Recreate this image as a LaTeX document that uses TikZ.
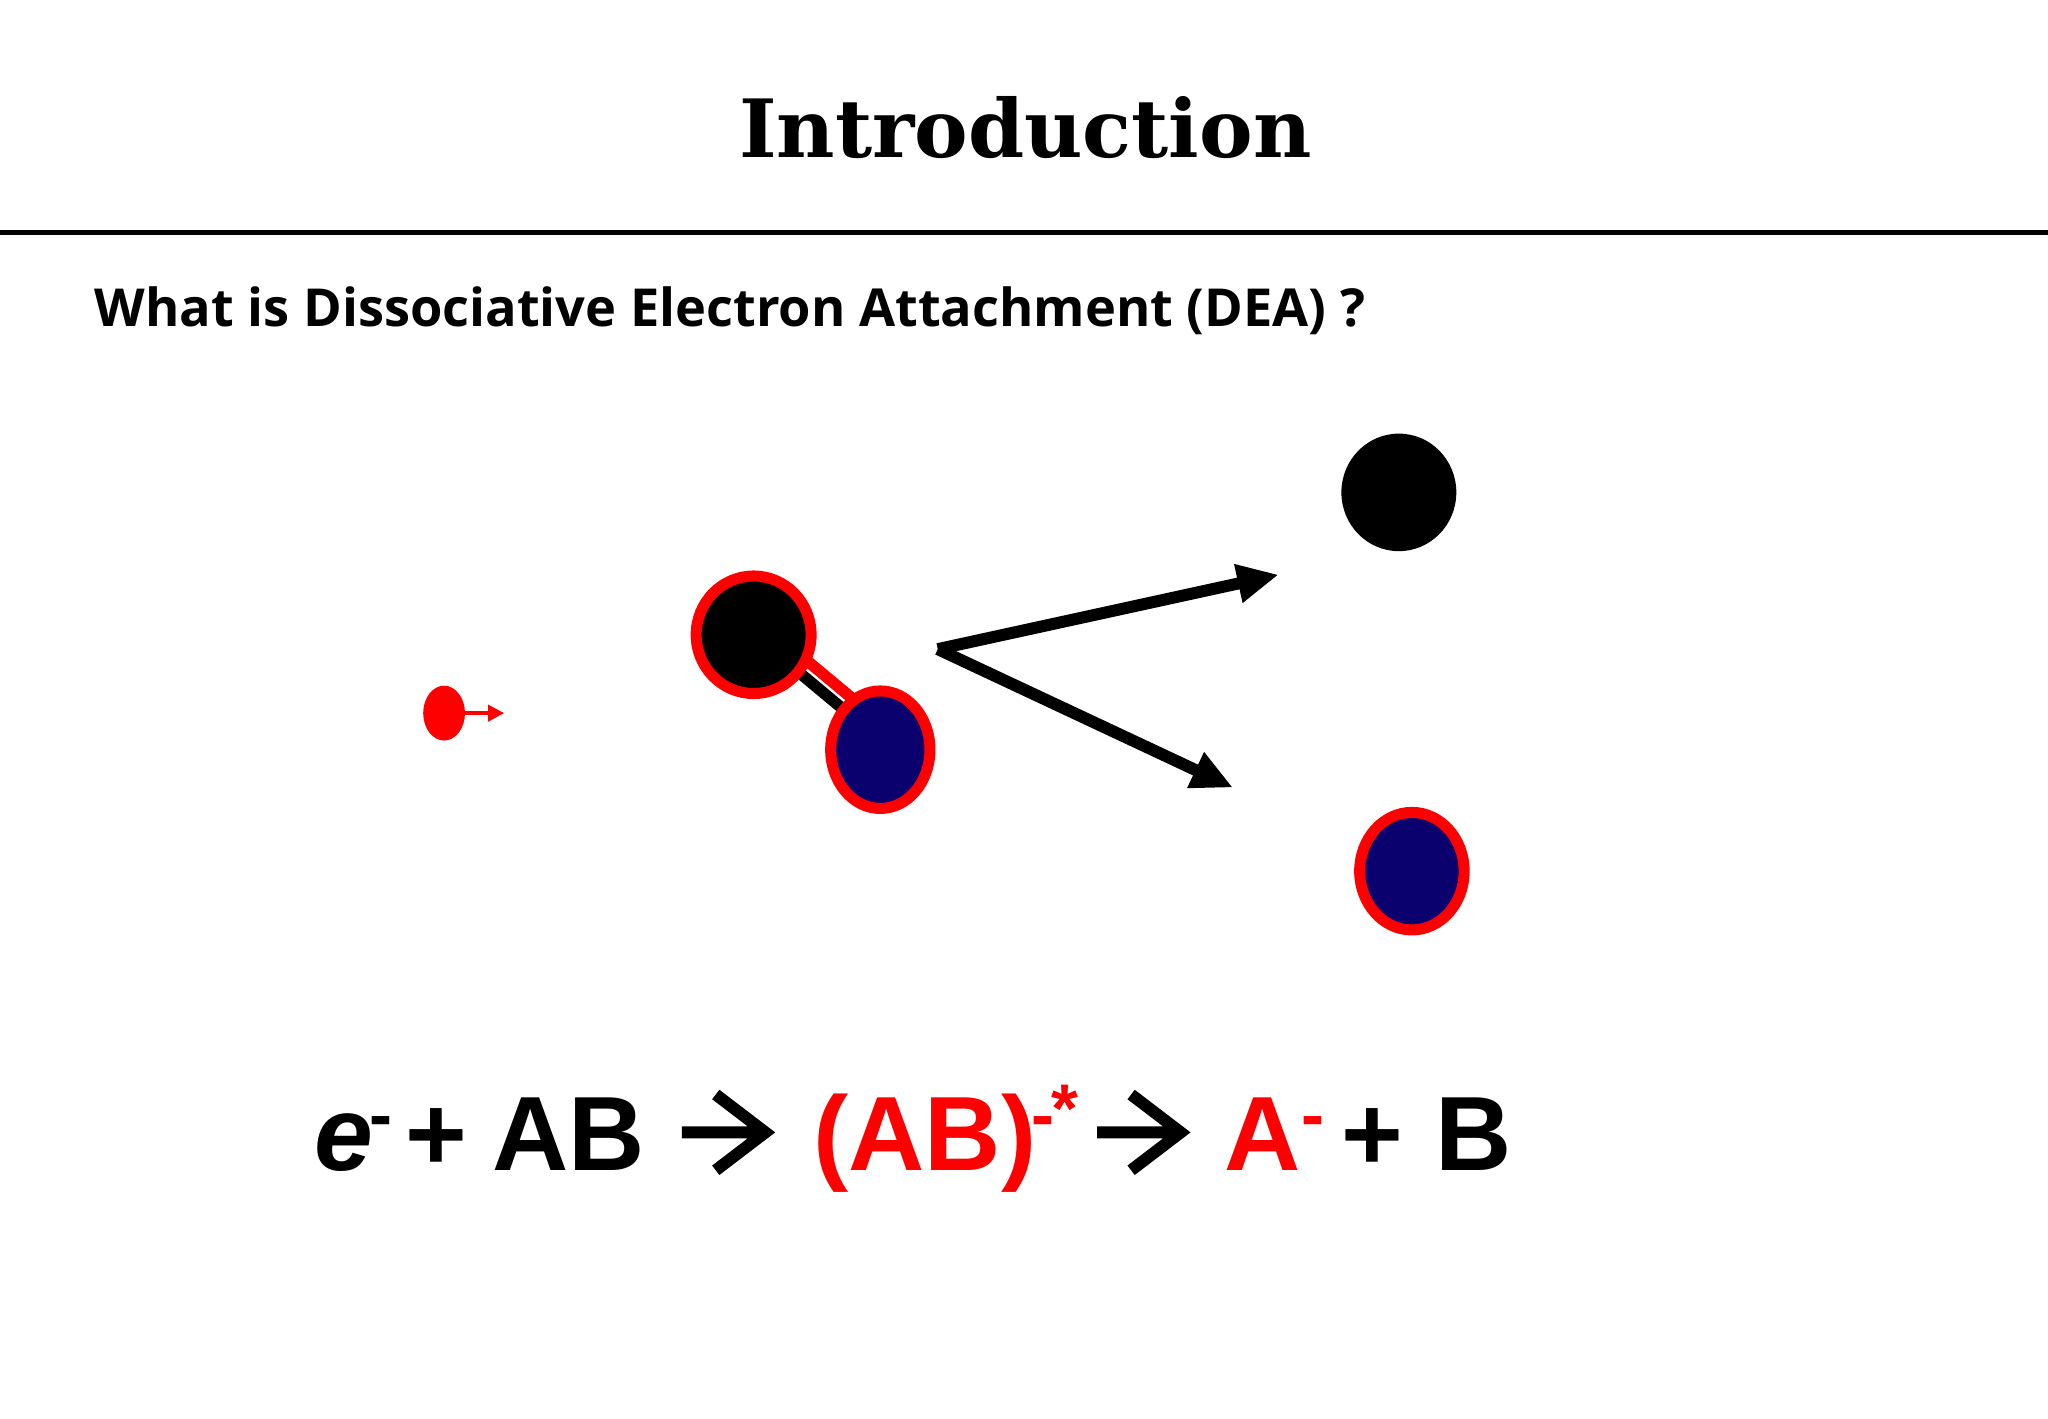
\documentclass[tikz,border=0pt]{standalone}
\usepackage{fontspec}
\setmainfont{DejaVu Serif}
\newfontfamily\osans{Open Sans}
\newfontfamily\arial{Liberation Sans}
\usetikzlibrary{arrows.meta}
\definecolor{navy}{RGB}{10,0,110}
\tikzset{
 atomr/.style={draw=red, line width=2.4pt},
 big/.style={-{Triangle[length=9pt,width=8pt]}, line width=2.6pt},
 eqt/.style={anchor=base west, inner sep=0pt, font=\arial\bfseries\fontsize{23}{26}\selectfont},
 eqs/.style={anchor=base west, inner sep=0pt, font=\arial\bfseries\fontsize{15}{16}\selectfont},
 rx/.style={line width=2.6pt},
}
\begin{document}
\begin{tikzpicture}[x=0.01cm,y=-0.01cm]
\useasboundingbox (0,0) rectangle (1568,1086);
\node (title) at (785,98) {\fontsize{17.5}{22}\selectfont\bfseries Introduction};
\draw[line width=1.2pt] (0,178) -- (1568,178);
\node[anchor=west, inner sep=0pt] (q) at (72,238) {\osans\fontsize{11.4}{14}\selectfont\bfseries What is Dissociative Electron Attachment (DEA) ?};
% electron
\fill[red] (340,546) ellipse [x radius=16, y radius=21];
\coordinate (e1) at (356,546); \coordinate (e2) at (386,546);
\draw[red, line width=0.8pt, -{Triangle[length=3.5pt,width=3.5pt]}] (e1) -- (e2);
% bond
\coordinate (b1) at (612,508); \coordinate (b2) at (654,543);
\draw[black, line width=2.5pt] ([yshift=-2]b1) -- ([yshift=-2]b2);
\draw[red, line width=2.5pt] ([yshift=2]b1) -- ([yshift=2]b2);
% AB
\draw[atomr, fill=black] (577,486) ellipse [x radius=44, y radius=45];
\draw[atomr, fill=navy] (674,574) ellipse [x radius=38, y radius=45];
% arrows
\coordinate (c) at (718,497);
\coordinate (t1) at (979,440);
\coordinate (t2) at (944,603);
\draw[big] (c) -- (t1);
\draw[big] (c) -- (t2);
% products
\fill[black] (1071,377) ellipse [x radius=44, y radius=45];
\draw[atomr, fill=navy] (1081,667) ellipse [x radius=40, y radius=45];
% equation
\node[eqt] (e) at (240,896) {\textit{e}};
\node[eqs] (em) at (282,872) {-};
\node[eqt] (p1) at (310,896) {+};
\node[eqt] (ab) at (376,896) {AB};
\coordinate (a1) at (522,867);
\draw[rx] (a1) -- ++(64,0) (a1) ++(26,-29) -- ++(38,29) -- ++(-38,29);
\node[eqt, text=red] (abx) at (622,896) {(AB)};
\node[eqs, text=red] (abm) at (789,872) {-};
\node[eqs, text=red] (abs) at (804,867) {*};
\coordinate (a2) at (840,867);
\draw[rx] (a2) -- ++(64,0) (a2) ++(26,-29) -- ++(38,29) -- ++(-38,29);
\node[eqt, text=red] (a) at (937,896) {A};
\node[eqs, text=red] (am) at (996,872) {-};
\node[eqt] (p2) at (1026,896) {+};
\node[eqt] (b) at (1098,896) {B};
\end{tikzpicture}
\end{document}
